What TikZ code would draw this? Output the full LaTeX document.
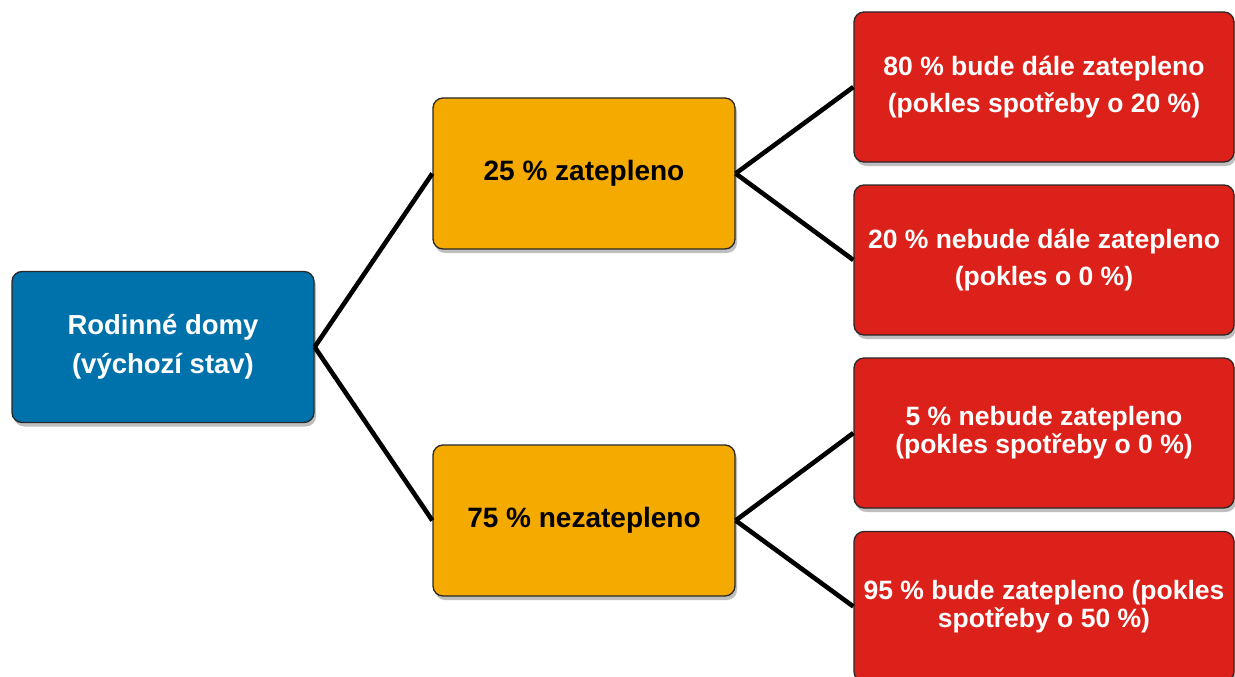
\documentclass[tikz,border=0pt]{standalone}
\usepackage{fontspec}
\setmainfont{Liberation Sans}
\usetikzlibrary{shadows}
\definecolor{boxblue}{RGB}{0,114,171}
\definecolor{boxorange}{RGB}{245,170,0}
\definecolor{boxred}{RGB}{220,33,26}
\definecolor{boxedge}{RGB}{40,40,40}
\tikzset{
  basebox/.style={draw=boxedge, line width=1.3pt, rounded corners=10pt, align=center,
    inner sep=0pt, font=\bfseries,
    drop shadow={shadow xshift=2pt, shadow yshift=-4pt, opacity=0.25, fill=black}},
  bluebox/.style={basebox, fill=boxblue, text=white, minimum width=302pt, minimum height=151pt,
    font=\fontsize{27.5}{39}\selectfont\bfseries},
  orangebox/.style={basebox, fill=boxorange, text=black, minimum width=302pt, minimum height=151pt,
    font=\fontsize{28}{36}\selectfont\bfseries},
  redbox/.style={basebox, fill=boxred, text=white, minimum width=380pt, minimum height=150pt,
    font=\fontsize{26.5}{37}\selectfont\bfseries},
  redboxtight/.style={redbox, font=\fontsize{26.5}{28}\selectfont\bfseries},
  conn/.style={draw=black, line width=4.6pt}
}
\begin{document}
\begin{tikzpicture}[x=1pt,y=-1pt]
\useasboundingbox (0,0) rectangle (1235,677);
\clip (0,0) rectangle (1235,677);
\node[bluebox] (root) at (163,347) {Rodinné domy\\(výchozí stav)};
\node[orangebox] (z) at (584,173.5) {25 \% zatepleno};
\node[orangebox] (n) at (584,520.5) {75 \% nezatepleno};
\node[redbox] (r1) at (1044,87) {80 \% bude dále zatepleno\\(pokles spotřeby o 20 \%)};
\node[redbox] (r2) at (1044,260) {20 \% nebude dále zatepleno\\(pokles o 0 \%)};
\node[redboxtight] (r3) at (1044,433) {5 \% nebude zatepleno\\(pokles spotřeby o 0 \%)};
\node[redboxtight] (r4) at (1044,606.5) {95 \% bude zatepleno (pokles\\spotřeby o 50 \%)};
\draw[conn] (root.east) -- (z.west);
\draw[conn] (root.east) -- (n.west);
\draw[conn] (z.east) -- (r1.west);
\draw[conn] (z.east) -- (r2.west);
\draw[conn] (n.east) -- (r3.west);
\draw[conn] (n.east) -- (r4.west);
\end{tikzpicture}
\end{document}
